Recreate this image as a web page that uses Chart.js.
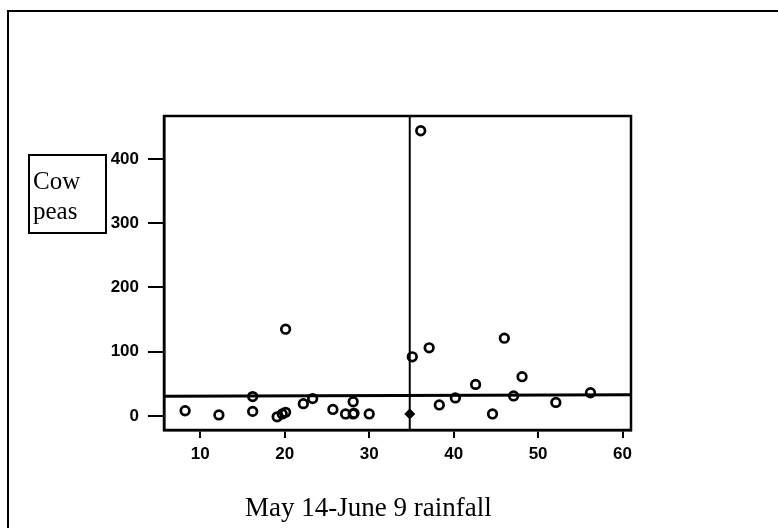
<!DOCTYPE html>
<html>
<head>
<meta charset="utf-8">
<script src="https://cdn.jsdelivr.net/npm/chart.js@4/dist/chart.umd.min.js"></script>
<style>
  html, body { margin: 0; padding: 0; background: #fff; }
  #wrap { position: relative; width: 778px; height: 528px; overflow: hidden; }
  #frame { position: absolute; left: 7px; top: 10px; width: 800px; height: 600px;
           border-left: 2.5px solid #000; border-top: 2.5px solid #000; }
  #ylab { position: absolute; left: 28px; top: 154px; width: 79px; height: 80px;
          border: 2px solid #000; font-family: "Liberation Serif", "Times New Roman", serif;
          font-size: 25px; line-height: 30px; padding: 10px 0 0 3px; box-sizing: border-box; color: #000; }
  #xlab { position: absolute; left: 245px; top: 491px; font-family: "Liberation Serif", "Times New Roman", serif;
          font-size: 27px; line-height: 32px; color: #000; white-space: nowrap; }
  canvas { position: absolute; left: 0; top: 0; }
</style>
</head>
<body>
<div id="wrap">
  <div id="frame"></div>
  <canvas id="chart" width="778" height="528"></canvas>
  <div id="ylab">Cow<br>peas</div>
  <div id="xlab">May 14-June 9 rainfall</div>
</div>
<script>
// rainfall (x) vs cow peas (y)
const rainfall = [8.2, 12.2, 16.2, 16.2, 19.1, 19.7, 20.1, 20.1, 22.2, 23.3, 25.7, 27.2, 28.1, 28.1, 28.2, 30.0,
                  35.1, 36.1, 37.1, 38.3, 40.2, 42.6, 44.6, 46.0, 47.1, 48.1, 52.1, 56.2];
const cowPeas  = [8, 1.5, 30, 7, -1.5, 3, 5.5, 135, 19, 27, 10, 3, 22, 3, 4, 3,
                  92, 444, 106, 17, 28, 49, 3, 121, 31, 61, 21, 36];

// the filled marker on the split line
const markRain = [34.8];
const markPeas = [3];

// fitted line and split line
const fitX = [5.7, 61];
const fitY = [30.5, 33];
const splitX = [34.8, 34.8];
const splitY = [-22, 467];

const xTicks = [10, 20, 30, 40, 50, 60];
const yTicks = [0, 100, 200, 300, 400];

const pts = (xs, ys) => xs.map((x, i) => ({ x: x, y: ys[i] }));

// box around the plotting area
const boxPlugin = {
    id: 'plotBox',
    afterDraw(chart) {
        const a = chart.chartArea;
        const ctx = chart.ctx;
        ctx.save();
        ctx.strokeStyle = '#000';
        ctx.lineWidth = 2.5;
        ctx.strokeRect(a.left, a.top, a.right - a.left, a.bottom - a.top);
        ctx.restore();
    }
};

const tickFont = { family: '"Liberation Sans", Arial, sans-serif', size: 17, weight: 'bold' };

new Chart(document.getElementById('chart').getContext('2d'), {
    type: 'scatter',
    data: {
        datasets: [
            {
                data: pts(fitX, fitY),
                showLine: true,
                borderColor: '#000',
                borderWidth: 3,
                pointRadius: 0
            },
            {
                data: pts(splitX, splitY),
                showLine: true,
                borderColor: '#000',
                borderWidth: 2,
                pointRadius: 0
            },
            {
                data: pts(rainfall, cowPeas),
                pointStyle: 'circle',
                pointRadius: 4.3,
                pointBorderWidth: 2.7,
                pointBorderColor: '#000',
                pointBackgroundColor: 'rgba(255,255,255,0)'
            },
            {
                data: pts(markRain, markPeas),
                pointStyle: 'rectRot',
                pointRadius: 5,
                pointBorderWidth: 1,
                pointBorderColor: '#000',
                pointBackgroundColor: '#000'
            }
        ]
    },
    options: {
        responsive: false,
        animation: false,
        layout: { padding: { left: 0, top: 116, right: 147, bottom: 0 } },
        plugins: { legend: { display: false }, tooltip: { enabled: false } },
        scales: {
            x: {
                type: 'linear',
                min: 5.7,
                max: 61,
                afterBuildTicks: (axis) => { axis.ticks = xTicks.map(v => ({ value: v })); },
                afterFit: (axis) => { axis.height = 98; },
                grid: { drawOnChartArea: false, color: '#000', lineWidth: 2, tickLength: 8 },
                border: { display: true, color: '#000', width: 2.5 },
                ticks: { color: '#000', font: tickFont, padding: 6, maxRotation: 0 }
            },
            y: {
                type: 'linear',
                min: -22,
                max: 467,
                afterBuildTicks: (axis) => { axis.ticks = yTicks.map(v => ({ value: v })); },
                afterFit: (axis) => { axis.width = 164; },
                grid: { drawOnChartArea: false, color: '#000', lineWidth: 2, tickLength: 16 },
                border: { display: true, color: '#000', width: 2.5 },
                ticks: { color: '#000', font: tickFont, padding: 9 }
            }
        }
    },
    plugins: [boxPlugin]
});
</script>
</body>
</html>
